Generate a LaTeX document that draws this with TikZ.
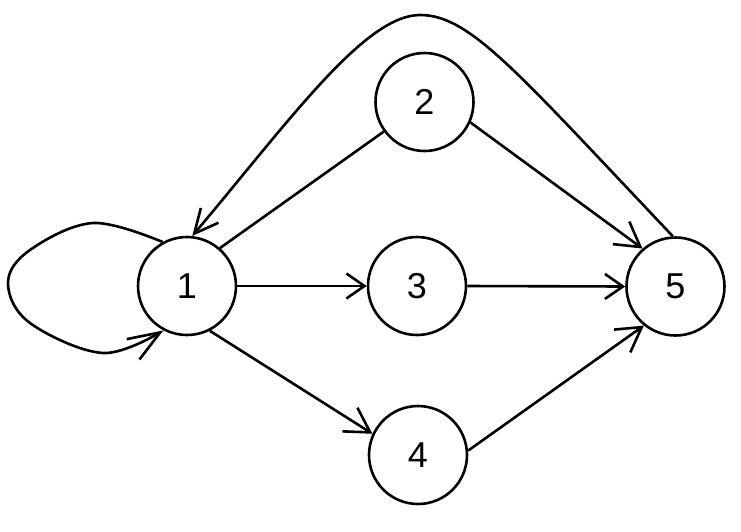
\documentclass[tikz,border=0pt]{standalone}
\usepackage{fontspec}
\setmainfont{Liberation Sans}
\usetikzlibrary{arrows.meta}
\begin{document}
\begin{tikzpicture}[x=1pt,y=-1pt, line width=2.6pt,
  vert/.style={draw, circle, minimum size=98pt, inner sep=0pt, font=\fontsize{36}{40}\selectfont},
  arrH/.style={-{Straight Barb[length=18pt,width=25pt]}},
  arrD/.style={-{Straight Barb[length=24pt,width=28pt]}},
  arrC/.style={-{Straight Barb[length=24pt,width=23pt]}},
  arrL/.style={-{Straight Barb[length=32pt,width=24pt]}}]
\useasboundingbox (0,0) rectangle (741,531);
\node[vert] (n1) at (187,286) {1};
\node[vert] (n2) at (424.5,102) {2};
\node[vert] (n3) at (417,286) {3};
\node[vert] (n4) at (418,455) {4};
\node[vert] (n5) at (675.5,286.5) {5};
\draw (n2.216) -- (n1.49);
\draw[arrH] (n1.east) -- (n3.west);
\draw[arrH] (n3.east) -- (n5.west);
\draw[arrD] (n1.-63) -- (n4.155);
\draw[arrD] (n2.-24) -- (n5.131);
\draw[arrD] (n4.5) -- (n5.-129);
\draw[arrC] (n5.93) .. controls (516,71) and (470,15) .. (420,15) .. controls (365,15) and (290,120) .. (n1.84);
\draw[arrL] plot[smooth, tension=0.6] coordinates {(n1.119) (93,223) (30,250) (8,283) (30,323) (103,353) (n1.-118)};
\end{tikzpicture}
\end{document}
